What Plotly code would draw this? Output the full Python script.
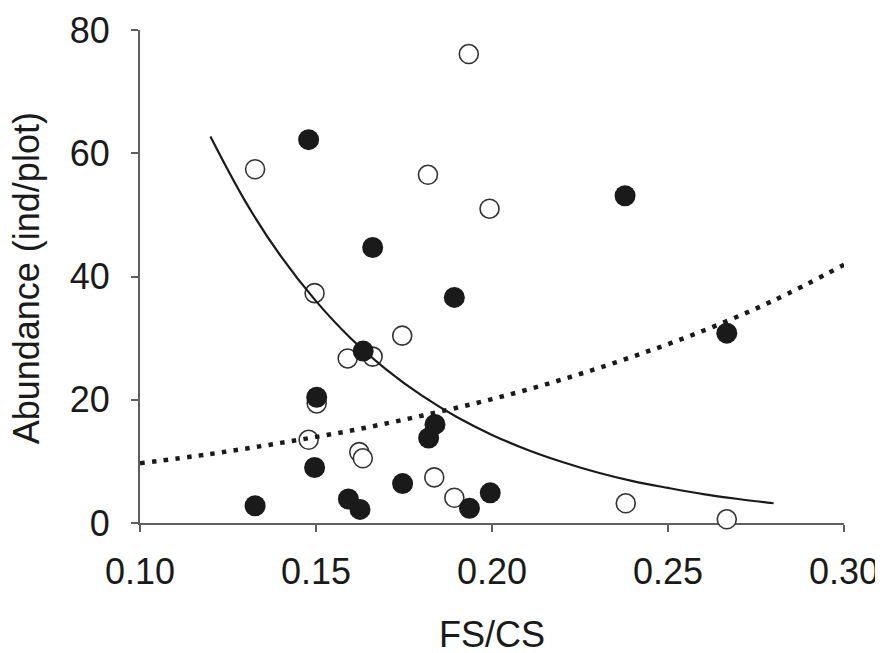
import plotly.graph_objects as go

# Open circles
open_x = [0.1327, 0.1934, 0.1818, 0.1993, 0.1496, 0.1745, 0.1590, 0.1661, 0.1502, 0.1479,
          0.1623, 0.1633, 0.1836, 0.1893, 0.2380, 0.2667]
open_y = [57.4, 76.1, 56.5, 51.0, 37.3, 30.4, 26.7, 27.0, 19.4, 13.5,
          11.5, 10.5, 7.4, 4.1, 3.2, 0.6]

# Filled circles
filled_x = [0.1479, 0.1661, 0.2378, 0.1893, 0.1634, 0.1502, 0.1496, 0.1838, 0.1820, 0.1746,
            0.1327, 0.1592, 0.1625, 0.1936, 0.1995, 0.2667]
filled_y = [62.2, 44.7, 53.1, 36.6, 27.9, 20.4, 9.0, 16.0, 13.8, 6.4,
            2.8, 3.9, 2.2, 2.4, 4.9, 30.8]

# Solid fitted curve
solid_x = [0.12, 0.13, 0.14, 0.15, 0.16, 0.17, 0.18, 0.19, 0.20, 0.21, 0.22, 0.23, 0.24, 0.25, 0.26, 0.27, 0.28]
solid_y = [62.7, 52.1, 43.3, 36.0, 29.9, 24.9, 20.7, 17.2, 14.3, 11.9, 9.9, 8.2, 6.8, 5.7, 4.7, 3.9, 3.2]

# Dotted fitted curve
dot_x = [0.10, 0.12, 0.14, 0.16, 0.18, 0.20, 0.22, 0.24, 0.26, 0.28, 0.30]
dot_y = [9.7, 11.2, 13.0, 15.0, 17.4, 20.1, 23.3, 27.0, 31.2, 36.1, 41.9]

x_ticks = [0.10, 0.15, 0.20, 0.25, 0.30]
x_tick_labels = ["0.10", "0.15", "0.20", "0.25", "0.30"]
y_ticks = [0, 20, 40, 60, 80]

FONT = "Liberation Sans, Arial, sans-serif"
INK = "#1a1a1a"
AXIS = "#5f5f5f"

fig = go.Figure()
fig.add_trace(go.Scatter(
    x=open_x, y=open_y, mode="markers", cliponaxis=False,
    marker=dict(symbol="circle", size=19, color="white", line=dict(color="#333333", width=1.6)),
    showlegend=False))
fig.add_trace(go.Scatter(
    x=solid_x, y=solid_y, mode="lines", line=dict(color=INK, width=2.2, shape="spline"),
    showlegend=False))
fig.add_trace(go.Scatter(
    x=dot_x, y=dot_y, mode="lines", line=dict(color=INK, width=4.5, dash="4.5px,7.3px", shape="spline"),
    showlegend=False))
fig.add_trace(go.Scatter(
    x=filled_x, y=filled_y, mode="markers", cliponaxis=False,
    marker=dict(symbol="circle", size=21, color=INK, line=dict(width=0)),
    showlegend=False))

# page body has an 8px margin, so the figure is 8px smaller and margins shifted
fig.update_layout(
    width=875, height=645,
    margin=dict(l=132, r=39, t=22, b=130),
    paper_bgcolor="white", plot_bgcolor="white",
    font=dict(family=FONT, size=36, color=INK),
    xaxis=dict(range=[0.10, 0.30], tickvals=x_ticks, ticktext=x_tick_labels,
               showgrid=False, zeroline=False, showline=True, linecolor=AXIS, linewidth=2,
               ticks="outside", ticklen=7, tickwidth=2, tickcolor=AXIS, automargin=False,
               tickfont=dict(family=FONT, size=36, color=INK), layer="below traces",
               ticklabelstandoff=9),
    yaxis=dict(range=[0, 80], tickvals=y_ticks, automargin=False,
               showgrid=False, zeroline=False, showline=True, linecolor=AXIS, linewidth=2,
               ticks="outside", ticklen=7, tickwidth=2, tickcolor=AXIS,
               tickfont=dict(family=FONT, size=36, color=INK), layer="below traces",
               ticklabelstandoff=14),
    annotations=[
        dict(text="FS/CS", xref="paper", yref="paper", x=0.5, y=-0.2268,
             xanchor="center", yanchor="middle", showarrow=False,
             font=dict(family=FONT, size=36, color=INK)),
        dict(text="Abundance (ind/plot)", xref="paper", yref="paper", x=-0.16, y=0.497,
             xanchor="center", yanchor="middle", textangle=-90, showarrow=False,
             font=dict(family=FONT, size=36, color=INK)),
    ],
)

fig.write_html("out.html")
